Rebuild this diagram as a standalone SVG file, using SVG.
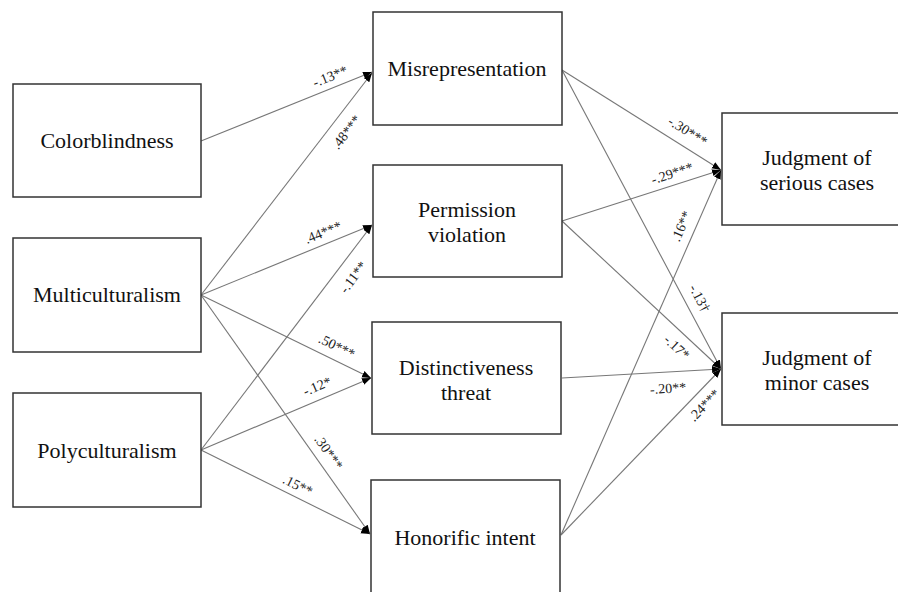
<svg xmlns="http://www.w3.org/2000/svg" width="898" height="592" viewBox="0 0 898 592">
<defs>
<marker id="ah" markerUnits="userSpaceOnUse" markerWidth="10" markerHeight="10" viewBox="0 0 10 10" refX="9" refY="5" orient="auto">
<path d="M0,1.5 L9,5 L0,8.5 Z" fill="#000"/>
</marker>
</defs>
<style>
.box{fill:#fff;stroke:#333;stroke-width:1.5}
.t{font-family:"Liberation Serif","Times New Roman",serif;font-size:22px;fill:#111;text-anchor:middle}
.c line{stroke:#777;stroke-width:1.1;marker-end:url(#ah)}
.l{font-family:"Liberation Serif","Times New Roman",serif;font-size:14px;fill:#222;text-anchor:middle}
</style>
<rect width="898" height="592" fill="#fff"/>
<g class="c" id="connectors">
<line x1="201" y1="141" x2="372" y2="72"/>
<line x1="201" y1="295" x2="372" y2="73"/>
<line x1="201" y1="295" x2="372" y2="225"/>
<line x1="201" y1="450" x2="372" y2="225"/>
<line x1="201" y1="295" x2="371" y2="378"/>
<line x1="201" y1="450" x2="371" y2="378"/>
<line x1="201" y1="295" x2="370" y2="534"/>
<line x1="201" y1="450" x2="370" y2="534"/>
<line x1="562" y1="70" x2="721" y2="170"/>
<line x1="562" y1="221" x2="721" y2="170"/>
<line x1="561" y1="535" x2="721" y2="170"/>
<line x1="562" y1="70" x2="721" y2="369"/>
<line x1="562" y1="221" x2="721" y2="369"/>
<line x1="562" y1="378" x2="721" y2="369"/>
<line x1="561" y1="535" x2="721" y2="369"/>
</g>
<g id="labels">
<text class="l" transform="translate(330,76) rotate(-22)" y="5">-.13**</text>
<text class="l" transform="translate(346,132) rotate(-52.4)" y="5">.48***</text>
<text class="l" transform="translate(323,232) rotate(-22.3)" y="5">.44***</text>
<text class="l" transform="translate(353,277) rotate(-52.8)" y="5">-.11**</text>
<text class="l" transform="translate(337,346) rotate(26.2)" y="5">.50***</text>
<text class="l" transform="translate(317,386) rotate(-23)" y="5">-.12*</text>
<text class="l" transform="translate(329,452) rotate(54.9)" y="5">.30***</text>
<text class="l" transform="translate(298,485) rotate(26.4)" y="5">.15**</text>
<text class="l" transform="translate(688,131) rotate(32.3)" y="5">-.30***</text>
<text class="l" transform="translate(672,173) rotate(-17.9)" y="5">-.29***</text>
<text class="l" transform="translate(681,226) rotate(-66.3)" y="5">.16**</text>
<text class="l" transform="translate(700,298) rotate(62.1)" y="5">-.13†</text>
<text class="l" transform="translate(677,347) rotate(42.9)" y="5">-.17*</text>
<text class="l" transform="translate(668,388) rotate(-3.6)" y="5">-.20**</text>
<text class="l" transform="translate(704,405) rotate(-45.9)" y="5">.24***</text>
</g>
<g id="colorblindness"><rect class="box" x="13" y="84" width="188" height="113"/><text class="t" x="107" y="148">Colorblindness</text></g>
<g id="multiculturalism"><rect class="box" x="13" y="238" width="188" height="114"/><text class="t" x="107" y="302">Multiculturalism</text></g>
<g id="polyculturalism"><rect class="box" x="13" y="393" width="188" height="114"/><text class="t" x="107" y="458">Polyculturalism</text></g>
<g id="misrepresentation"><rect class="box" x="373" y="12" width="189" height="113"/><text class="t" x="467" y="76">Misrepresentation</text></g>
<g id="permission"><rect class="box" x="373" y="165" width="189" height="112"/><text class="t" x="467" y="217">Permission</text><text class="t" x="467" y="242">violation</text></g>
<g id="distinctiveness"><rect class="box" x="372" y="322" width="189" height="112"/><text class="t" x="466" y="375">Distinctiveness</text><text class="t" x="466" y="400">threat</text></g>
<g id="honorific"><rect class="box" x="371" y="480" width="189" height="113"/><text class="t" x="465" y="545">Honorific intent</text></g>
<g id="serious"><rect class="box" x="722" y="113" width="190" height="112"/><text class="t" x="817" y="165">Judgment of</text><text class="t" x="817" y="190">serious cases</text></g>
<g id="minor"><rect class="box" x="722" y="313" width="190" height="112"/><text class="t" x="817" y="365">Judgment of</text><text class="t" x="817" y="390">minor cases</text></g>
</svg>
